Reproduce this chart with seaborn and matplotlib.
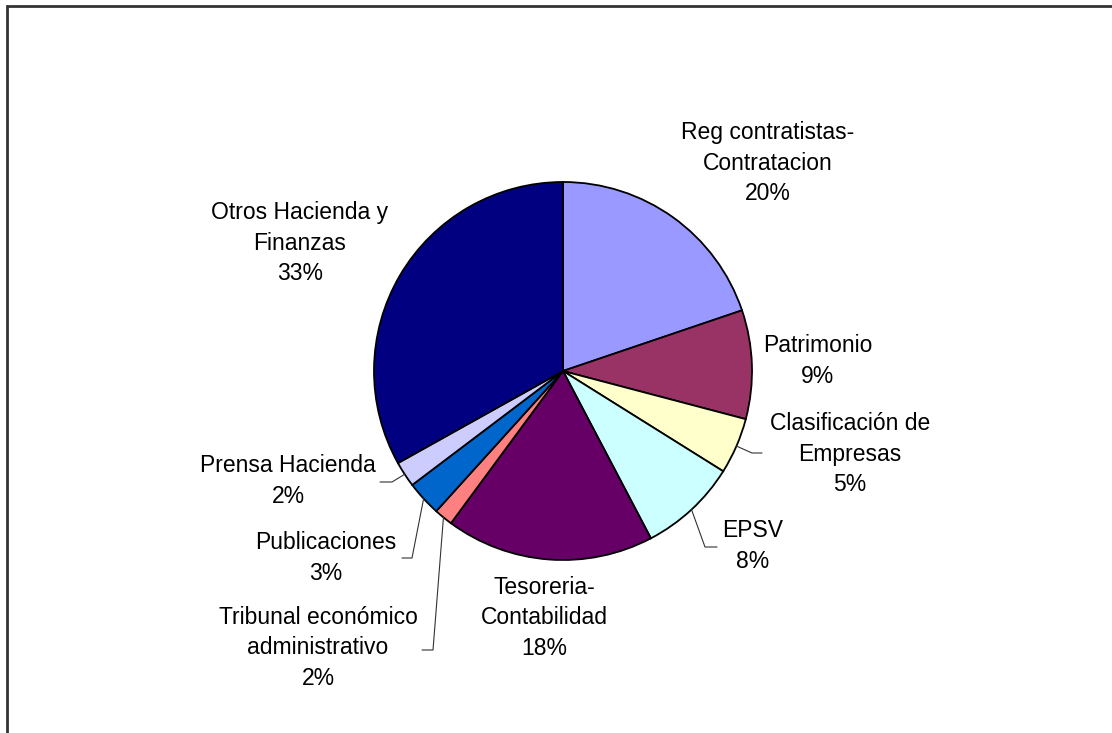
import numpy as np
import matplotlib
matplotlib.use("Agg")
import matplotlib.pyplot as plt
import seaborn as sns

# datos (porcentaje de cada sección)
labels = ["Reg contratistas-\nContratacion", "Patrimonio", "Clasificación de\nEmpresas",
          "EPSV", "Tesoreria-\nContabilidad", "Tribunal económico\nadministrativo",
          "Publicaciones", "Prensa Hacienda", "Otros Hacienda y\nFinanzas"]
values = [19.8, 9.3, 4.8, 8.4, 17.8, 1.6, 3.0, 2.2, 33.1]
colors = ["#9999FF", "#993366", "#FFFFCC", "#CCFFFF", "#660066",
          "#FF8080", "#0066CC", "#CCCCFF", "#000080"]

# posiciones de etiquetas (pixeles de la imagen)
label_pos = [(768, 163), (818, 361), (850, 454), (753, 546), (544, 618),
             (318, 648), (326, 558), (288, 481), (300, 243)]
# lineas guia: codo y extremo (None = sin linea)
leaders = [None, None, [(752, 453), (762, 453)], [(705, 547), (717, 547)], None,
           [(433, 650), (422, 650)], [(412, 558), (402, 558)], [(392, 482), (380, 482)], None]

sns.set_theme(style="white")
plt.rcParams['font.family'] = ['Liberation Sans', 'DejaVu Sans']

W, H = 1112, 733
fig = plt.figure(figsize=(W / 100, H / 100), dpi=100)
ax = fig.add_axes([0, 0, 1, 1])

center = (563, 371)
radius = 189

# eje invertido: empezar en -90 y sentido antihorario = arriba y horario en pantalla
wedges, _ = ax.pie(values, colors=sns.color_palette(colors), startangle=-90, counterclock=True,
                   center=center, radius=radius, frame=True,
                   wedgeprops=dict(edgecolor="black", linewidth=1.3))
ax.set_xlim(0, W)
ax.set_ylim(H, 0)
ax.axis("off")

total = sum(values)
for i, (lab, v) in enumerate(zip(labels, values)):
    pct = f"{round(v / total * 100):.0f}%"
    x, y = label_pos[i]
    ax.text(x, y, lab + "\n" + pct, ha="center", va="center", fontsize=16.5,
            linespacing=1.4, color="black")
    if leaders[i] is not None:
        w = wedges[i]
        mid = np.deg2rad((w.theta1 + w.theta2) / 2)
        sx = center[0] + radius * np.cos(mid)
        sy = center[1] + radius * np.sin(mid)
        pts = [(sx, sy)] + leaders[i]
        ax.plot([p[0] for p in pts], [p[1] for p in pts], color="#333333", lw=0.8)

# marco del grafico (se sale por la derecha y abajo)
ax.plot([7, 7, W + 10], [H + 10, 6, 6], color="#333333", lw=2, solid_joinstyle="miter")

fig.savefig("out.png", dpi=100)
